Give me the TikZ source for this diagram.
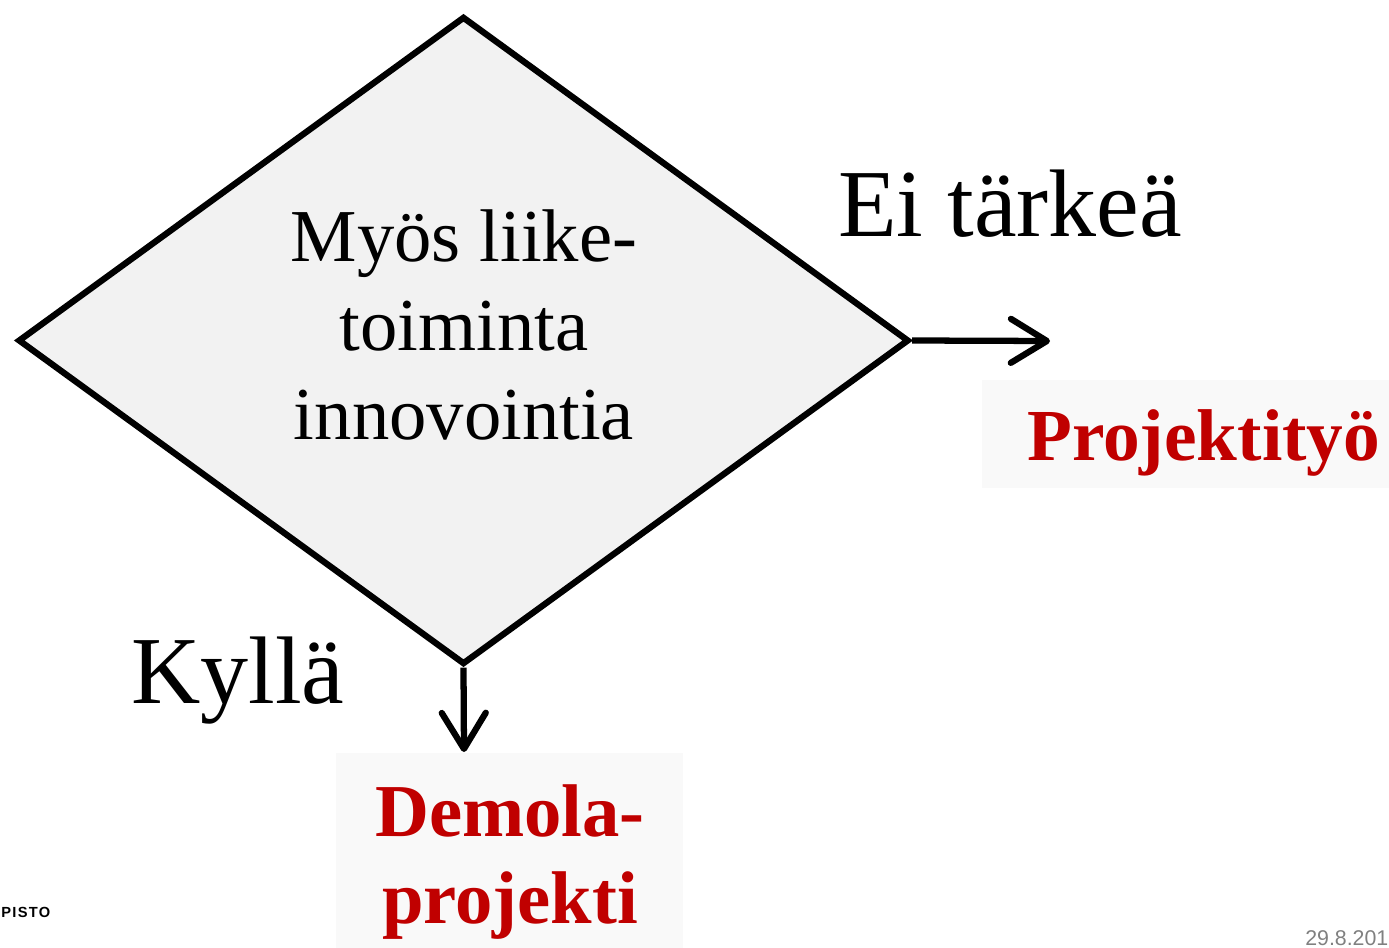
\documentclass[tikz,border=0pt]{standalone}
\usepackage{fontspec}
\setmainfont{Liberation Serif}
\newfontfamily\arialf{Liberation Sans}
\usetikzlibrary{shapes.geometric,arrows.meta}
\definecolor{diafill}{HTML}{F2F2F2}
\definecolor{boxfill}{HTML}{F9F9F9}
\definecolor{darkred}{HTML}{C00000}
\definecolor{dategray}{HTML}{808080}
\tikzset{
  decbox/.style={diamond, draw=black, fill=diafill, line width=4.7pt, inner sep=0pt,
    minimum width=668.25pt, minimum height=486pt},
  flowarr/.style={line width=4.7pt, -{Straight Barb[length=27pt,width=33pt,line cap=round,round]}},
  bigtxt/.style={font=\fontsize{72pt}{80pt}\selectfont, inner sep=0pt},
  qtxt/.style={font=\fontsize{56pt}{67pt}\selectfont, align=center, inner sep=0pt},
  restxt/.style={text=darkred, inner sep=0pt, align=center},
  resbox/.style={fill=boxfill, draw=none}
}
\begin{document}
\begin{tikzpicture}[x=0.75pt,y=-0.75pt]
\useasboundingbox (0,0) rectangle (1389,948);
% boxes behind results
\fill[boxfill] (982,380) rectangle (1389,488);
\fill[boxfill] (336,753) rectangle (683,948);
% decision
\node[decbox] (dec) at (463.5,340.5) {};
\node[qtxt] (q) at (464,325) {Myös liike-\\toiminta\\innovointia};
% arrows
\coordinate (tipR) at (1050,341);
\coordinate (tipD) at (464,752);
\draw[flowarr] (dec.east) -- (tipR);
\draw[flowarr] (dec.south) -- (tipD);
% labels
\node[bigtxt, anchor=base west] (ei) at (838,237) {Ei tärkeä};
\node[bigtxt, anchor=base west] (kylla) at (131,703) {Kyllä};
% results
\node[restxt, anchor=base west, font=\fontsize{55pt}{65pt}\selectfont\bfseries] (proj) at (1027,460) {Projektityö};
\node[restxt, font=\fontsize{56pt}{65pt}\selectfont\bfseries] (demola) at (510,862) {Demola-\\projekti};
% footer
\node[anchor=base west, inner sep=0pt, font=\arialf\bfseries\fontsize{11pt}{13pt}\selectfont\addfontfeatures{LetterSpace=9}] (pisto) at (1,917) {PISTO};
\node[anchor=base west, inner sep=0pt, text=dategray, font=\arialf\fontsize{16pt}{19pt}\selectfont] (date) at (1305,945) {29.8.201};
\end{tikzpicture}
\end{document}
